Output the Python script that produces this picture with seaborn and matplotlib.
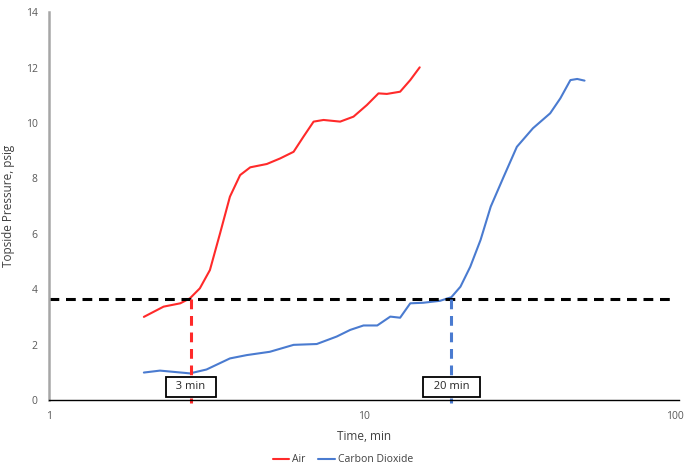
import pandas as pd
import seaborn as sns
import matplotlib.pyplot as plt
from matplotlib.transforms import ScaledTranslation

# Values
air_time = [2.0, 2.31, 2.61, 2.80, 3.01, 3.24, 3.49, 3.75, 4.04, 4.35, 4.91, 5.41,
            5.97, 6.42, 6.91, 7.43, 8.39, 9.25, 10.2, 11.1, 11.8, 13.0, 14.0, 15.0]
air_pressure = [3.0, 3.37, 3.49, 3.67, 4.03, 4.69, 6.02, 7.34, 8.12, 8.40, 8.52, 8.72,
                8.96, 9.51, 10.05, 10.11, 10.05, 10.23, 10.65, 11.07, 11.05, 11.13, 11.55, 12.01]

co2_time = [2.0, 2.25, 2.8, 3.16, 3.75, 4.24, 5.02, 5.97, 7.07, 8.18, 9.03, 9.95, 11.0,
            12.1, 13.0, 14.0, 15.4, 17.4, 18.9, 20.2, 21.7, 23.4, 25.2, 27.7, 30.5,
            34.3, 38.9, 41.9, 45.1, 47.4, 50.0]
co2_pressure = [0.99, 1.06, 0.96, 1.10, 1.50, 1.62, 1.74, 1.99, 2.02, 2.29, 2.53, 2.69, 2.69,
                3.01, 2.97, 3.49, 3.51, 3.58, 3.71, 4.09, 4.81, 5.78, 6.98, 8.06, 9.14,
                9.81, 10.35, 10.89, 11.55, 11.59, 11.53]

threshold = 3.63
air_cross = 2.82
co2_cross = 18.9
cross_labels = ['3 min', '20 min']

df = pd.concat([
    pd.DataFrame({'Time': air_time, 'Pressure': air_pressure, 'Gas': 'Air'}),
    pd.DataFrame({'Time': co2_time, 'Pressure': co2_pressure, 'Gas': 'Carbon Dioxide'}),
])

sns.set_style('white')
plt.rcParams['font.family'] = ['Open Sans', 'DejaVu Sans']

fig = plt.figure(figsize=(6.86, 4.70), dpi=100)
ax = fig.add_axes([0.0714, 0.149, 0.919, 0.825])

palette = {'Air': '#ff2a2a', 'Carbon Dioxide': '#4a7bd0'}
sns.lineplot(data=df, x='Time', y='Pressure', hue='Gas', palette=palette,
             linewidth=1.5, ax=ax, legend=False, sort=False)

# threshold and crossing markers
ax.axhline(threshold, xmin=0, xmax=0.99, color='black', lw=2.2, dashes=(3.2, 2.2))
ax.plot([air_cross, air_cross], [threshold, -0.12], color='#ff2a2a', lw=2.2,
        dashes=(3.2, 2.2), clip_on=False)
ax.plot([co2_cross, co2_cross], [threshold, -0.12], color='#4a7bd0', lw=2.2,
        dashes=(3.2, 2.2), clip_on=False)
for xc, lab in zip([air_cross, co2_cross], cross_labels):
    ax.text(xc, 0.48, f'  {lab}  ', ha='center', va='center', fontsize=8, color='#262626',
            bbox=dict(boxstyle='square,pad=0.42', fc='white', ec='black', lw=1.3))

ax.set_xscale('log')
ax.set_xlim(1, 100)
ax.set_ylim(0, 14)
ax.set_yticks(range(0, 15, 2))
ax.set_xticks([1, 10, 100])
ax.set_xticklabels(['1', '10', '100'])
ax.minorticks_off()
ax.tick_params(axis='both', length=0, labelsize=7.5, labelcolor='#595959', pad=8)
ax.set_xlabel('Time, min', fontsize=8.5, color='#404040', labelpad=6)
ax.set_ylabel('Topside Pressure, psig', fontsize=8.5, color='#404040', labelpad=8)

# nudge the last tick label so it stays inside the figure
last = ax.get_xticklabels()[-1]
last.set_transform(last.get_transform() + ScaledTranslation(-5 / 100, 0, fig.dpi_scale_trans))

sns.despine(ax=ax)
ax.spines['left'].set_color('#a6a6a6')
ax.spines['left'].set_linewidth(1.8)
ax.spines['bottom'].set_color('black')
ax.spines['bottom'].set_linewidth(1.0)

handles = [plt.Line2D([], [], color=palette[g], lw=1.5) for g in palette]
fig.legend(handles, list(palette), loc='center', bbox_to_anchor=(0.5, 0.022), ncol=2,
           frameon=False, fontsize=7.5, handlelength=1.6, handletextpad=0.3,
           columnspacing=1.2, labelcolor='#404040')

fig.savefig('out.png', dpi=100)
plt.close(fig)
